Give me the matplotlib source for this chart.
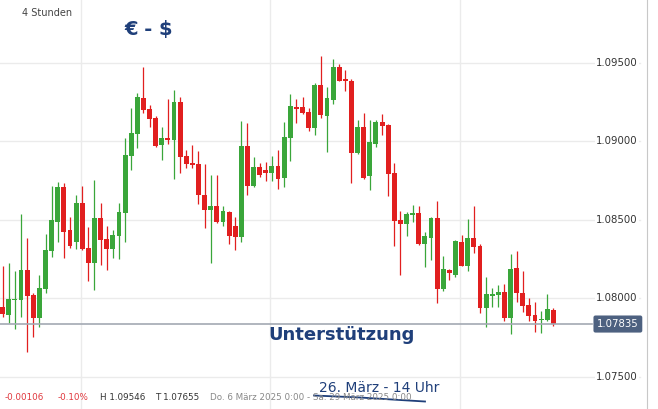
import matplotlib
matplotlib.use("Agg")
import matplotlib.pyplot as plt
import numpy as np

# EUR/USD 4h candles, 6.3. - 26.3.2025
opens = [1.07944, 1.07893, 1.07989, 1.07989, 1.08179, 1.08021, 1.07874, 1.08059, 1.08301, 1.08486,
         1.08709, 1.08435, 1.08358, 1.08607, 1.08320, 1.08224, 1.08511, 1.08378, 1.08314, 1.08397,
         1.08543, 1.08907, 1.09047, 1.09277, 1.09207, 1.09149, 1.08977, 1.09022, 1.09009, 1.09251,
         1.08907, 1.08862, 1.08856, 1.08658, 1.08563, 1.08588, 1.08486, 1.08550, 1.08461, 1.08390,
         1.08971, 1.08715, 1.08837, 1.08818, 1.08799, 1.08843, 1.08767, 1.09022, 1.09220, 1.09220,
         1.09188, 1.09086, 1.09360, 1.09162, 1.09264, 1.09475, 1.09398, 1.09385, 1.08926, 1.09092,
         1.08779, 1.08984, 1.09124, 1.09105, 1.08799, 1.08499, 1.08473, 1.08531, 1.08543, 1.08346,
         1.08384, 1.08511, 1.08059, 1.08180, 1.08148, 1.08358, 1.08205, 1.08384, 1.08333, 1.07938,
         1.08015, 1.08021, 1.08040, 1.07874, 1.08193, 1.08034, 1.07957, 1.07893, 1.07861, 1.07861,
         1.07925]
highs = [1.08205, 1.08224, 1.08173, 1.08537, 1.08384, 1.08034, 1.08147, 1.08409, 1.08715, 1.08741,
         1.08735, 1.08518, 1.08658, 1.08715, 1.08454, 1.08754, 1.08607, 1.08461, 1.08435, 1.08607,
         1.09022, 1.09213, 1.09309, 1.09475, 1.09232, 1.09162, 1.09092, 1.09271, 1.09328, 1.09283,
         1.08945, 1.08977, 1.08939, 1.08856, 1.08786, 1.08786, 1.08588, 1.08556, 1.08518, 1.09130,
         1.09117, 1.08901, 1.08862, 1.08869, 1.08907, 1.08945, 1.09124, 1.09302, 1.09271, 1.09283,
         1.09213, 1.09373, 1.09546, 1.09347, 1.09526, 1.09494, 1.09455, 1.09398, 1.09137, 1.09181,
         1.09137, 1.09137, 1.09175, 1.09111, 1.08862, 1.08556, 1.08550, 1.08595, 1.08588, 1.08422,
         1.08518, 1.08620, 1.08269, 1.08186, 1.08371, 1.08403, 1.08505, 1.08588, 1.08346, 1.08135,
         1.08066, 1.08084, 1.08091, 1.08282, 1.08301, 1.08173, 1.08002, 1.07976, 1.07918, 1.08027,
         1.07938]
lows = [1.07881, 1.07842, 1.07804, 1.07881, 1.07655, 1.07753, 1.07817, 1.08034, 1.08262, 1.08358,
        1.08256, 1.08320, 1.08314, 1.08307, 1.08110, 1.08052, 1.08212, 1.08179, 1.08256, 1.08250,
        1.08358, 1.08818, 1.08958, 1.09181, 1.09092, 1.08964, 1.08882, 1.08984, 1.08760, 1.08799,
        1.08831, 1.08831, 1.08601, 1.08448, 1.08224, 1.08480, 1.08461, 1.08346, 1.08307, 1.08358,
        1.08658, 1.08709, 1.08773, 1.08747, 1.08747, 1.08697, 1.08709, 1.08875, 1.09117, 1.09175,
        1.09066, 1.09041, 1.09149, 1.08933, 1.09239, 1.09385, 1.09322, 1.08735, 1.08920, 1.08760,
        1.08690, 1.08964, 1.09041, 1.08652, 1.08333, 1.08148, 1.08397, 1.08486, 1.08339, 1.08199,
        1.08244, 1.07970, 1.08046, 1.08116, 1.08135, 1.08205, 1.08173, 1.08288, 1.07906, 1.07817,
        1.07944, 1.07944, 1.07855, 1.07772, 1.07976, 1.07912, 1.07855, 1.07785, 1.07778, 1.07855,
        1.07823]
closes = [1.07900, 1.07995, 1.07995, 1.08179, 1.08015, 1.07874, 1.08066, 1.08307, 1.08498, 1.08709,
          1.08422, 1.08333, 1.08607, 1.08314, 1.08224, 1.08511, 1.08371, 1.08314, 1.08403, 1.08550,
          1.08913, 1.09054, 1.09283, 1.09200, 1.09143, 1.08971, 1.09022, 1.09009, 1.09251, 1.08901,
          1.08856, 1.08850, 1.08658, 1.08563, 1.08588, 1.08486, 1.08556, 1.08397, 1.08390, 1.08971,
          1.08715, 1.08837, 1.08786, 1.08799, 1.08843, 1.08760, 1.09028, 1.09226, 1.09207, 1.09181,
          1.09086, 1.09360, 1.09168, 1.09277, 1.09475, 1.09385, 1.09385, 1.08926, 1.09092, 1.08767,
          1.08996, 1.09124, 1.09098, 1.08792, 1.08492, 1.08473, 1.08537, 1.08543, 1.08346, 1.08397,
          1.08511, 1.08059, 1.08186, 1.08161, 1.08365, 1.08205, 1.08384, 1.08327, 1.07938, 1.08027,
          1.08027, 1.08040, 1.07874, 1.08186, 1.08034, 1.07950, 1.07887, 1.07855, 1.07868, 1.07931,
          1.07835]

price_ticks = [1.075, 1.080, 1.085, 1.090, 1.095]
week_breaks = [12.8, 43.7, 74.7]
support = 1.07835

GREEN = "#3aa63a"
RED = "#e11f1f"
BLUE = "#1f3f7a"

W, H = 658, 409
fig = plt.figure(figsize=(W / 100, H / 100), dpi=100)
fig.patch.set_facecolor("white")
ax = fig.add_axes([0, 0, 647 / W, 1])
ax.set_xlim(-0.44, 105.3)
ax.set_ylim(1.07293, 1.09902)
for s in ["top", "left", "bottom"]:
    ax.spines[s].set_visible(False)
ax.spines["right"].set_color("#c8c8c8")
ax.set_xticks([])
ax.set_yticks([])

# grid
for t in price_ticks:
    ax.axhline(t, xmax=640 / 647, color="#ebebeb", lw=1, zorder=0)
for wb in week_breaks:
    ax.axvline(wb, color="#ebebeb", lw=1, zorder=0)

o = np.array(opens)
h = np.array(highs)
l = np.array(lows)
c = np.array(closes)
x = np.arange(len(o))
cols = np.where(c >= o, GREEN, RED)
ax.vlines(x, l, h, colors=cols, lw=0.9, zorder=2)
body = np.maximum(np.abs(c - o), 0.00003)
ax.bar(x, body, bottom=np.minimum(o, c), width=0.8, color=cols, zorder=3)

# support line and price tag
ax.axhline(support, xmax=592 / 647, color="#a3a9b3", lw=1.2, zorder=4)
ax.text(597 / 647, support, f"{support:.5f}", transform=ax.get_yaxis_transform(),
        ha="left", va="center", color="white", fontsize=7.3, zorder=6,
        bbox=dict(boxstyle="round,pad=0.35,rounding_size=0.2", fc="#4d6180", ec="none"))

for t in price_ticks:
    ax.text(596 / 647, t, f"{t:.5f}", transform=ax.get_yaxis_transform(),
            ha="left", va="center", color="#333333", fontsize=7.3, zorder=5,
            bbox=dict(boxstyle="square,pad=0.1", fc="white", ec="none"))


def fx(px):
    return px / W


def fy(py):
    return 1 - py / H


fig.text(fx(22), fy(13), "4 Stunden", fontsize=7, color="#444444", va="center",
         bbox=dict(boxstyle="square,pad=0.6", fc="white", ec="none"))
fig.text(fx(124), fy(30), "€ - $", fontsize=14, fontweight="bold", color=BLUE, va="center")
fig.text(fx(268), fy(335), "Unterstützung", fontsize=13, fontweight="bold", color=BLUE,
         va="center")

# bottom info line
fig.text(fx(5), fy(398), "-0.00106", fontsize=6.3, color="#e0383e", va="center")
fig.text(fx(58), fy(398), "-0.10%", fontsize=6.3, color="#e0383e", va="center")
fig.text(fx(100), fy(398), "H 1.09546", fontsize=6.3, color="#333333", va="center")
fig.text(fx(155), fy(398), "T 1.07655", fontsize=6.3, color="#333333", va="center")
fig.text(fx(210), fy(398), "Do. 6 März 2025 0:00 - Sa. 29 März 2025 0:00", fontsize=6.3,
         color="#888888", va="center")

# handwritten annotation
fig.text(fx(319), fy(388), "26. März - 14 Uhr", fontsize=10, color=BLUE, va="center")
fig.lines.append(plt.Line2D([fx(314), fx(360), fx(400), fx(425)],
                            [fy(395.5), fy(397.5), fy(400), fy(401.5)],
                            transform=fig.transFigure, color=BLUE, lw=1.3))

fig.savefig("out.png", dpi=100, facecolor="white")
